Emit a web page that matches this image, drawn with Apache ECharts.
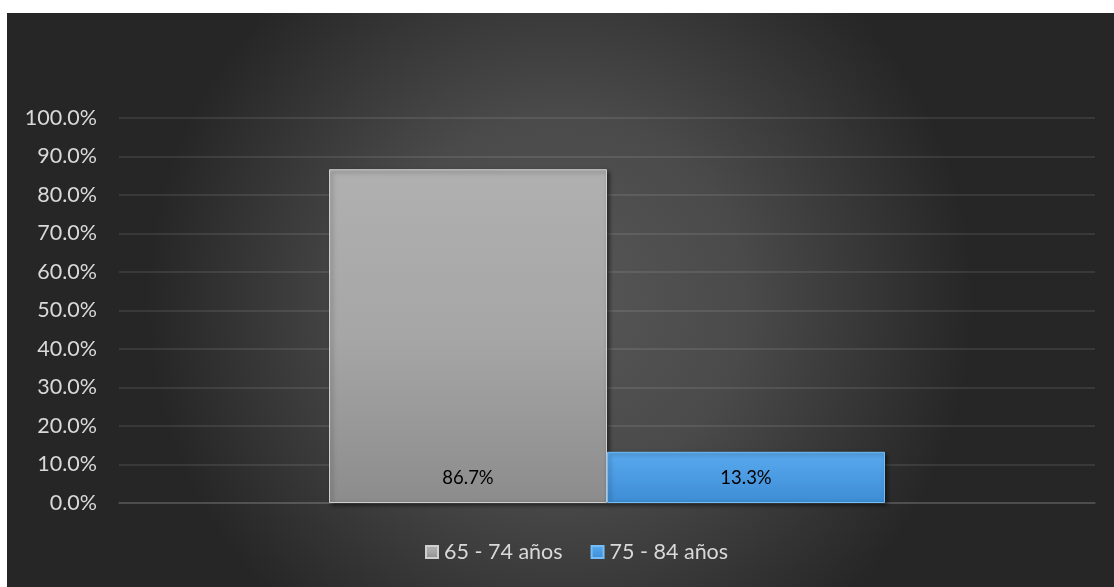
<!DOCTYPE html>
<html><head><meta charset="utf-8">
<script src="https://cdn.jsdelivr.net/npm/echarts@6/dist/echarts.min.js"></script>
<style>html,body{margin:0;padding:0;background:#fff;}#c{width:1114px;height:587px;}</style>
</head><body><div id="c"></div>
<script>
const categories = ['Edad'];
const seriesNames = ['65 - 74 años', '75 - 84 años'];
const values1 = [86.7];
const values2 = [13.3];
const yTicks = [0, 10, 20, 30, 40, 50, 60, 70, 80, 90, 100];

const chart = echarts.init(document.getElementById('c'));
const font = 'Lato, "Liberation Sans", sans-serif';
chart.setOption({
  animation: false,
  graphic: [{
    type: 'rect', z: -10, silent: true,
    shape: { x: 7, y: 13, width: 1107, height: 574 },
    style: { fill: new echarts.graphic.RadialGradient(0.5, 0.5, 0.72, [
      { offset: 0, color: '#575757' }, { offset: 0.45, color: '#4a4a4a' }, { offset: 1, color: '#262626' }]) }
  }],
  grid: { left: 119, right: 19, top: 118, bottom: 84 },
  legend: {
    bottom: 19, left: 420, itemGap: 28, itemWidth: 12, itemHeight: 12,
    icon: 'rect',
    textStyle: { color: '#d9d9d9', fontSize: 21.5, fontFamily: font, padding: [0, 0, 0, 1] },
    data: seriesNames
  },
  xAxis: {
    type: 'category', data: categories,
    axisLine: { show: true, lineStyle: { color: 'rgba(255,255,255,0.1)', width: 2 } },
    axisTick: { show: false }, axisLabel: { show: false }
  },
  yAxis: {
    type: 'value', min: 0, max: 100, interval: 10,
    axisLine: { show: false }, axisTick: { show: false },
    axisLabel: { color: '#d9d9d9', fontSize: 21.5, fontFamily: font, margin: 22,
      formatter: v => v.toFixed(1) + '%' },
    splitLine: { lineStyle: { color: 'rgba(255,255,255,0.09)', width: 2 } }
  },
  series: [{
    name: seriesNames[0], type: 'bar', data: values1, barWidth: 278, barGap: '0%',
    itemStyle: {
      color: new echarts.graphic.LinearGradient(0, 0, 0, 1, [
        { offset: 0, color: '#b0b0b0' }, { offset: 0.5, color: '#a6a6a6' }, { offset: 1, color: '#8c8c8c' }]),
      borderColor: '#cfcfcf', borderWidth: 1,
      shadowColor: 'rgba(0,0,0,0.5)', shadowBlur: 4, shadowOffsetX: 2, shadowOffsetY: 2
    },
    label: { show: true, position: 'insideBottom', distance: 15, color: '#000', fontSize: 18.5, fontFamily: font,
      formatter: p => p.value.toFixed(1) + '%' }
  }, {
    name: seriesNames[1], type: 'bar', data: values2, barWidth: 278,
    itemStyle: {
      color: new echarts.graphic.LinearGradient(0, 0, 0, 1, [
        { offset: 0, color: '#5aaaf0' }, { offset: 1, color: '#3d8cd4' }]),
      borderColor: '#74bdf7', borderWidth: 1,
      shadowColor: 'rgba(0,0,0,0.5)', shadowBlur: 4, shadowOffsetX: 2, shadowOffsetY: 2
    },
    label: { show: true, position: 'insideBottom', distance: 15, color: '#000', fontSize: 18.5, fontFamily: font,
      formatter: p => p.value.toFixed(1) + '%' }
  }]
});
</script></body></html>
